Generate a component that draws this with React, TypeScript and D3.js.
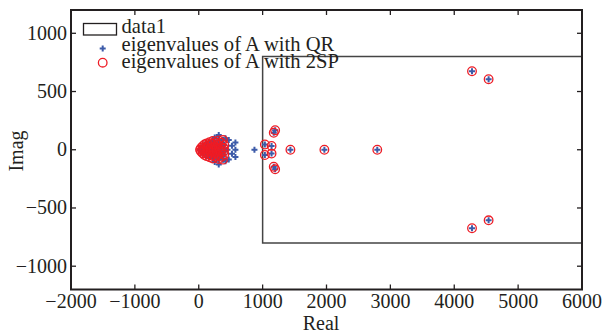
import * as d3 from "d3";

// eigenvalues [real, imag]
const clusterPoints: [number, number][] = [
  [20, 0], [35, 15], [35, -15], [55, 0], [60, 30], [60, -30], [85, 10], [85, -10],
  [90, 45], [90, -45], [115, 25], [115, -25], [125, 55], [125, -55], [145, 0],
  [155, 40], [155, -40], [170, 65], [170, -65], [185, 15], [185, -15], [205, 50],
  [205, -50], [220, 75], [220, -75], [230, 0], [245, 30], [245, -30], [265, 60],
  [265, -60], [280, 15], [280, -15], [300, 45], [300, -45], [310, 80], [310, -80],
  [330, 0], [345, 25], [345, -25], [360, 60], [360, -60], [380, 85], [380, -85],
  [395, 10], [395, -10], [400, 40], [400, -40],
];

const outerPoints: [number, number][] = [
  [1035, 45], [1035, -45], [1140, 33], [1140, -33], [1196, 168], [1196, -168],
  [1174, 146], [1174, -146], [1435, 0], [1967, 0], [2795, 0],
  [4278, 674], [4278, -674], [4538, 606], [4538, -606],
];

// only found by QR
const qrExtra: [number, number][] = [
  [313, 126], [313, -126], [250, 105], [250, -105], [418, 98], [418, -98],
  [470, 83], [470, -83], [574, 63], [574, 0], [574, -63], [520, 35], [520, -35],
  [450, 0], [872, 0],
];

const qrPoints = [...clusterPoints, ...qrExtra, ...outerPoints];
const spPoints = [...clusterPoints, ...outerPoints];

// data1 rectangle
const boxX = [1000, 6000];
const boxY = [-800, 800];

const xTicks = [-2000, -1000, 0, 1000, 2000, 3000, 4000, 5000, 6000];
const yTicks = [-1000, -500, 0, 500, 1000];
const legendLabels = ["data1", "eigenvalues of A with QR", "eigenvalues of A with 2SP"];

const W = 605;
const H = 335;
const left = 71;
const right = 582;
const top = 10;
const bottom = 289.5;
const font = "'Liberation Serif', 'Times New Roman', serif";
const blue = "#3d5ba9";
const red = "#ee1c25";
const axisColor = "#231f20";

const App = () => {
  const x = d3.scaleLinear().domain([-2000, 6000]).range([left, right]);
  const y = d3.scaleLinear().domain([-1200, 1200]).range([bottom, top]);
  const fmt = (d: number) => (d < 0 ? "\u2212" + Math.abs(d) : String(d));
  const cross = d3.symbol().type(d3.symbolCross).size(20)();

  return (
    <svg
      width={W}
      height={H}
      style={{ position: "absolute", left: 0, top: 0, background: "#fff" }}
    >
      {/* data1 box */}
      <path
        d={`M${x(boxX[1])},${y(boxY[1])}H${x(boxX[0])}V${y(boxY[0])}H${x(boxX[1])}`}
        fill="none"
        stroke="#444"
        strokeWidth={1.5}
      />

      {/* QR eigenvalues */}
      <g fill={blue}>
        {qrPoints.map((p, i) => (
          <path key={i} d={cross ?? ""} transform={`translate(${x(p[0])},${y(p[1])})`} />
        ))}
      </g>

      {/* 2SP eigenvalues */}
      <g fill="none" stroke={red} strokeWidth={1.3}>
        {spPoints.map((p, i) => (
          <circle key={i} cx={x(p[0])} cy={y(p[1])} r={4.3} />
        ))}
      </g>

      {/* axes box */}
      <rect
        x={left}
        y={top}
        width={right - left}
        height={bottom - top}
        fill="none"
        stroke={axisColor}
        strokeWidth={2}
      />
      <g stroke={axisColor} strokeWidth={1.3}>
        {xTicks.map((d) => (
          <g key={d}>
            <line x1={x(d)} x2={x(d)} y1={bottom} y2={bottom - 5} />
            <line x1={x(d)} x2={x(d)} y1={top} y2={top + 5} />
          </g>
        ))}
        {yTicks.map((d) => (
          <g key={d}>
            <line x1={left} x2={left + 5} y1={y(d)} y2={y(d)} />
            <line x1={right} x2={right - 5} y1={y(d)} y2={y(d)} />
          </g>
        ))}
      </g>

      <g fontFamily={font} fontSize={20} fill={axisColor}>
        {xTicks.map((d) => (
          <text key={d} x={x(d)} y={308} textAnchor="middle">
            {fmt(d)}
          </text>
        ))}
        {yTicks.map((d) => (
          <text key={d} x={left - 4} y={y(d) + 6.5} textAnchor="end">
            {fmt(d)}
          </text>
        ))}
        <text x={321} y={330} textAnchor="middle">Real</text>
        <text transform={`translate(23,151) rotate(-90)`} textAnchor="middle">Imag</text>
      </g>

      {/* legend */}
      <g fontFamily={font} fontSize={20.6} fill={axisColor}>
        <rect x={83.5} y={23.5} width={33} height={11.5} fill="none" stroke={axisColor} strokeWidth={1.3} />
        <path d={cross ?? ""} transform="translate(102.7,48.5)" fill={blue} />
        <circle cx={102.7} cy={62.7} r={4.3} fill="none" stroke={red} strokeWidth={1.3} />
        {legendLabels.map((t, i) => (
          <text key={t} x={121.5} y={33 + i * 17.5}>
            {t}
          </text>
        ))}
      </g>
    </svg>
  );
};

export default App;
